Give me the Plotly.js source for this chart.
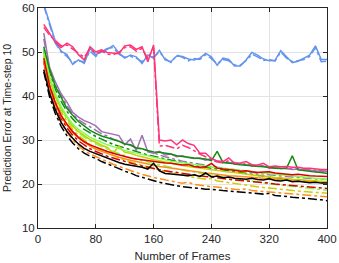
<!DOCTYPE html>
<html>
<head>
<meta charset="utf-8">
<script src="https://cdn.plot.ly/plotly-3.0.1.min.js"></script>
<style>html,body{margin:0;padding:0;background:#fff;}#chart{width:339px;height:263px;}</style>
</head>
<body>
<div id="chart"></div>
<script>
const frames = [8,16,24,32,40,48,56,64,72,80,88,96,104,112,120,128,136,144,152,160,168,176,184,192,200,208,216,224,232,240,248,256,264,272,280,288,296,304,312,320,328,336,344,352,360,368,376,384,392,400];

const blueSolid = [60.8,56.6,52.5,50.2,49.4,47.2,48.2,47.4,50.8,49.4,50.0,50.6,51.5,49.8,48.6,49.3,48.9,47.4,49.3,48.6,50.4,48.2,47.8,49.1,49.0,48.4,48.2,48.6,49.7,48.9,47.0,48.6,48.3,46.8,46.8,48.2,49.9,49.3,48.4,48.0,48.1,50.3,48.9,47.6,47.9,48.6,49.3,51.4,48.3,48.3];
const blueDash = [60.5,56.0,52.0,50.0,49.0,47.6,48.0,47.8,50.2,49.0,50.2,50.8,51.0,49.5,48.8,49.0,48.6,47.8,49.0,48.9,50.0,48.5,47.6,49.3,48.8,48.0,48.5,48.3,49.4,48.5,47.3,48.3,48.0,47.1,47.0,48.0,49.5,48.9,48.1,48.3,47.9,50.0,48.6,47.8,48.1,48.3,49.0,51.0,47.8,47.9];
const pinkSolid = [56.3,54.3,52.2,51.0,52.0,51.2,49.4,48.2,51.2,50.0,50.5,49.9,49.7,49.6,51.4,51.6,50.6,51.2,47.8,51.6,30.0,29.8,30.0,28.9,30.0,29.2,28.8,27.0,27.0,25.8,25.2,25.1,25.9,24.7,24.8,25.1,24.4,24.3,24.7,23.9,24.1,23.9,24.0,23.8,23.8,23.6,23.6,23.4,23.3,23.3];
const pinkDash = [55.6,53.8,52.6,51.4,51.6,50.6,49.8,48.8,50.8,49.6,50.2,49.5,49.4,49.9,51.0,51.2,50.2,50.8,48.5,51.0,28.6,28.8,28.4,28.0,28.8,28.3,27.6,26.8,26.2,25.4,25.0,24.8,25.3,24.5,24.4,24.6,24.1,24.0,24.2,23.6,23.7,23.6,23.5,23.4,23.5,23.3,23.2,23.1,23.0,22.9];
const purpleSolid = [54.3,46.5,43.2,40.5,38.6,36.3,35.2,34.4,33.9,33.2,31.9,31.6,31.2,31.0,28.9,30.2,27.6,31.1,27.3,27.0,27.4,26.6,26.8,26.2,26.4,26.0,25.8,25.9,25.4,25.8,25.2,25.0,24.8,24.9,24.6,24.3,24.4,24.0,24.1,23.7,23.8,23.5,23.6,23.3,23.4,23.1,23.2,22.9,23.0,22.8];
const purpleDash = [53.0,45.8,42.5,40.0,37.8,35.9,34.6,33.8,33.0,32.2,31.4,30.9,30.2,29.8,29.2,28.8,28.2,28.0,27.5,27.0,26.6,26.2,25.8,25.5,25.2,24.9,24.7,24.5,24.2,24.0,23.8,23.6,23.4,23.2,23.0,22.8,22.6,22.5,22.3,22.1,22.0,21.8,21.7,21.6,21.5,21.4,21.3,21.2,21.1,21.0];
const greenSolid = [51.2,46.0,42.2,39.6,37.2,35.6,34.2,33.2,32.2,31.5,30.9,30.5,30.1,29.7,29.1,28.9,28.2,28.0,27.6,27.3,27.2,27.0,26.8,26.4,26.3,26.1,25.9,25.8,25.7,25.3,27.4,24.9,24.8,24.6,24.4,24.3,24.2,24.0,23.9,23.8,23.6,23.5,23.6,26.4,23.2,23.0,22.9,22.7,22.6,22.4];
const greenDash = [50.5,45.2,41.5,38.8,36.5,34.8,33.5,32.4,31.6,30.8,30.2,29.6,29.0,28.6,28.2,27.7,27.3,27.0,26.6,26.3,26.0,25.7,25.4,25.1,24.8,24.5,24.3,24.0,23.8,23.6,23.3,23.1,22.9,22.7,22.5,22.3,22.1,21.9,21.8,21.6,21.4,21.3,21.1,21.0,20.8,20.7,20.6,20.4,20.3,20.2];
const limeSolid = [50.6,44.6,40.5,37.6,35.4,33.6,32.4,31.4,30.6,30.0,29.4,28.9,28.5,28.0,27.6,27.3,27.0,26.6,26.3,26.0,25.7,25.5,25.2,25.0,24.8,24.6,24.4,24.2,24.1,23.9,23.7,23.6,23.4,23.3,23.1,23.0,22.8,22.7,22.5,22.4,22.2,22.1,22.0,21.8,21.7,21.6,21.4,21.3,21.2,21.0];
const limeDash = [49.8,44.0,39.8,36.9,34.8,33.0,31.7,30.6,29.8,29.1,28.5,27.9,27.4,26.9,26.5,26.0,25.6,25.3,24.9,24.6,24.3,24.0,23.7,23.4,23.2,22.9,22.7,22.4,22.2,22.0,21.8,21.6,21.4,21.2,21.0,20.8,20.6,20.4,20.3,20.1,19.9,19.8,19.6,19.5,19.3,19.2,19.0,18.9,18.7,18.6];
const yellowSolid = [50.0,44.0,40.0,37.2,35.2,33.2,31.9,30.9,30.1,29.5,28.8,28.3,27.0,28.6,27.2,27.0,26.5,26.2,25.8,25.5,25.3,25.0,24.7,24.5,24.2,24.0,23.8,23.6,23.4,23.2,23.1,22.9,22.7,22.6,22.4,22.2,22.1,21.9,21.8,21.6,21.5,21.4,21.2,21.1,21.0,20.9,20.8,20.7,20.6,20.5];
const yellowDash = [49.2,43.2,39.2,36.4,34.3,32.4,31.0,29.9,29.0,28.3,27.6,27.0,26.5,25.9,25.4,25.0,24.6,24.2,23.8,23.5,23.2,22.9,22.6,22.3,22.0,21.8,21.5,21.3,21.1,21.3,20.7,20.5,20.3,20.1,19.9,19.7,19.6,19.4,19.2,19.1,18.9,18.8,18.7,18.5,18.4,18.3,18.2,18.1,18.0,17.9];
const orangeSolid = [48.0,42.0,38.0,35.3,33.4,31.7,30.4,29.4,28.6,27.9,27.4,26.9,26.5,26.1,25.7,25.4,25.1,24.8,24.5,24.3,24.0,23.8,23.6,23.4,23.2,23.0,22.8,22.7,22.5,22.4,22.2,22.1,21.9,21.8,21.7,21.6,21.4,21.3,21.2,21.1,21.0,20.9,20.8,20.8,20.7,20.6,20.5,20.5,20.4,20.4];
const orangeDash = [47.5,41.2,37.0,34.0,31.8,30.0,28.7,27.6,26.8,26.2,25.6,25.0,24.5,24.0,23.5,23.1,22.6,22.2,21.8,21.5,21.2,20.9,20.6,20.4,20.2,20.4,19.9,19.7,19.5,19.4,19.3,19.1,18.9,18.8,18.7,18.9,18.5,18.4,18.3,18.2,18.1,17.9,17.8,17.7,17.6,17.5,17.4,17.3,17.2,17.1];
const redSolid = [48.6,42.4,38.5,35.6,33.6,31.9,30.6,29.6,28.9,28.4,27.8,27.4,27.0,26.6,26.2,25.9,25.7,25.5,25.3,25.1,24.9,24.8,24.7,24.5,24.3,24.4,24.0,23.8,23.9,24.7,23.6,23.4,23.3,23.1,22.9,23.0,22.8,22.6,22.7,22.8,22.5,22.4,22.3,22.1,22.2,22.0,21.9,21.8,21.8,21.7];
const redDash = [48.0,41.8,37.8,34.9,32.8,31.1,29.8,28.8,28.0,27.4,26.8,26.3,25.9,25.5,25.1,24.8,24.4,24.1,23.8,23.5,23.2,23.0,22.8,22.6,22.4,22.3,22.1,21.9,21.7,21.6,21.4,21.2,21.1,20.9,20.8,20.7,20.5,20.4,20.3,20.2,20.0,19.9,19.8,19.7,19.6,19.5,19.4,19.3,19.1,19.0];
const blackSolid = [46.0,40.6,36.9,34.0,32.0,30.4,29.1,28.1,27.4,26.9,26.4,25.8,25.3,24.9,24.5,24.3,24.0,23.8,23.4,24.7,23.0,22.4,22.3,22.2,22.0,21.9,22.1,21.7,22.5,21.6,21.8,21.4,21.6,21.3,21.2,21.1,21.3,21.0,20.9,21.2,20.8,20.7,20.9,20.5,20.6,20.4,20.3,20.4,20.2,20.2];
const blackDash = [45.5,39.8,36.0,33.1,31.0,29.3,28.0,27.0,26.3,25.8,25.1,24.6,24.0,23.5,22.9,22.5,21.9,21.5,21.1,20.7,20.4,20.1,19.8,19.6,19.4,19.2,19.1,19.0,18.8,18.8,18.6,18.5,18.4,18.3,18.1,18.0,17.9,17.8,17.7,17.9,17.4,17.3,17.1,17.0,16.9,16.8,16.6,16.5,16.4,16.2];

const xTicks = [0,80,160,240,320,400];
const yTicks = [10,20,30,40,50,60];

const series = [
  [blueDash,'#6495ED','dashdot'],[blueSolid,'#6495ED','solid'],
  [blackDash,'#000000','dashdot'],[orangeDash,'#FF8C1A','dashdot'],
  [yellowDash,'#CCCC00','dashdot'],[limeDash,'#7CFF50','dashdot'],
  [redDash,'#DD0000','dashdot'],[greenDash,'#118C11','dashdot'],
  [purpleDash,'#A070B0','dashdot'],[pinkDash,'#FF3377','dashdot'],
  [orangeSolid,'#FF8C1A','solid'],[yellowSolid,'#CCCC00','solid'],
  [limeSolid,'#7CFF50','solid'],[blackSolid,'#000000','solid'],
  [redSolid,'#DD0000','solid'],[purpleSolid,'#A070B0','solid'],
  [greenSolid,'#118C11','solid'],[pinkSolid,'#FF3377','solid']
];

const traces = series.map(s => ({
  x: frames, y: s[0], type: 'scatter', mode: 'lines',
  line: {color: s[1], width: 1.5, dash: s[2]}, showlegend: false, hoverinfo: 'none'
}));

const fontFam = 'Liberation Sans, Arial, sans-serif';
const axisCommon = {
  showline: true, linecolor: '#262626', linewidth: 1, mirror: 'ticks',
  ticks: 'inside', ticklen: 4, tickcolor: '#262626',
  showgrid: true, gridcolor: '#e3e3e3', gridwidth: 1, zeroline: false,
  tickfont: {family: fontFam, size: 11.5, color: '#262626'}
};

const layout = {
  width: 339, height: 263,
  margin: {l: 38, r: 12, t: 8, b: 35},
  paper_bgcolor: '#ffffff', plot_bgcolor: '#ffffff',
  xaxis: Object.assign({}, axisCommon, {
    range: [0, 400], tickvals: xTicks, ticktext: xTicks.map(String),
    title: {text: 'Number of Frames', standoff: 8, font: {family: fontFam, size: 11.5, color: '#262626'}}
  }),
  yaxis: Object.assign({}, axisCommon, {
    range: [10, 60], tickvals: yTicks, ticktext: yTicks.map(String),
    title: {text: 'Prediction Error at Time-step 10', standoff: 8, font: {family: fontFam, size: 10.5, color: '#262626'}}
  })
};

Plotly.newPlot('chart', traces, layout, {displayModeBar: false, staticPlot: true});
</script>
</body>
</html>
